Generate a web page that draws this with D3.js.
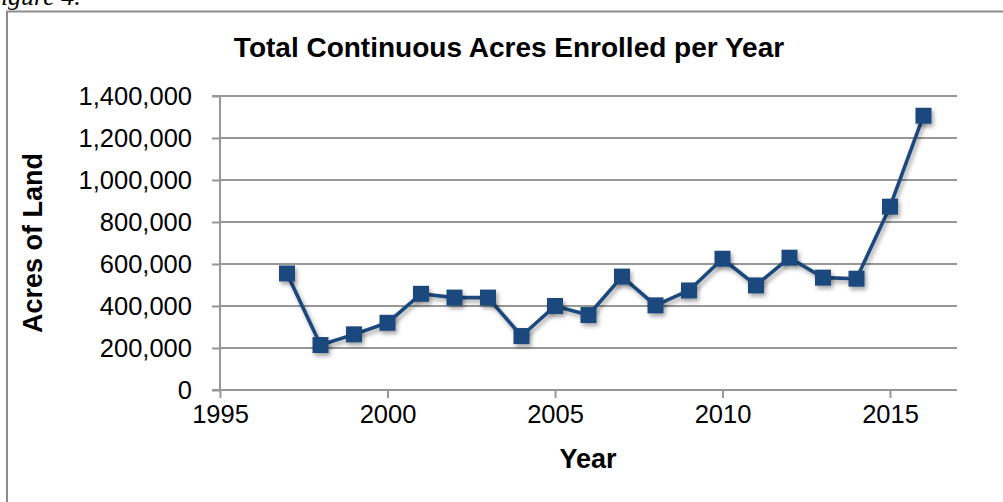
<!DOCTYPE html>
<html><head><meta charset="utf-8">
<script src="https://cdn.jsdelivr.net/npm/d3@7/dist/d3.min.js"></script>
<style>html,body{margin:0;padding:0;background:#fff;overflow:hidden}</style>
</head><body>
<svg id="c" width="1003" height="502"></svg>
<script>
const years = [1997,1998,1999,2000,2001,2002,2003,2004,2005,2006,2007,2008,2009,2010,2011,2012,2013,2014,2015,2016];
const acres = [555000,214000,265000,320000,458000,440000,440000,257000,400000,357000,540000,403000,474000,625000,498000,630000,535000,530000,873000,1306000];
const xTicks = [1995,2000,2005,2010,2015];
const yTicks = [0,200000,400000,600000,800000,1000000,1200000,1400000];
const title = "Total Continuous Acres Enrolled per Year";
const xLabel = "Year";
const yLabel = "Acres of Land";

const svg = d3.select("#c");
const font = "'Liberation Sans', Arial, sans-serif";
const L = 220, R = 957, T = 96, B = 390;
const x = d3.scaleLinear().domain([1995, 2017]).range([L, R]);
const y = d3.scaleLinear().domain([0, 1400000]).range([B, T]);

const defs = svg.append("defs");
const f = defs.append("filter").attr("id","sh").attr("x","-50%").attr("y","-50%").attr("width","200%").attr("height","200%");
f.append("feDropShadow").attr("dx",2).attr("dy",3).attr("stdDeviation",2).attr("flood-color","#000").attr("flood-opacity",0.35);

// caption fragment above frame (cut off at the top-left, as in the reference)
svg.append("text").attr("x",-15).attr("y",5).attr("font-family","'Liberation Serif','DejaVu Serif',serif")
  .attr("font-style","italic").attr("font-size",26).attr("fill","#000").text("Figure 4.");

// frame
svg.append("path").attr("d","M7,502 V11.5 H1003").attr("fill","none").attr("stroke","#8c8c8c").attr("stroke-width",2);

// gridlines
svg.append("g").selectAll("line").data(yTicks.filter(d=>d>0)).join("line")
  .attr("x1",L).attr("x2",R).attr("y1",d=>y(d)).attr("y2",d=>y(d))
  .attr("stroke","#979797").attr("stroke-width",2);

// y axis
const ya = svg.append("g").attr("transform",`translate(${L},0)`)
  .call(d3.axisLeft(y).tickValues(yTicks).tickSize(8).tickPadding(20).tickFormat(d3.format(",")));
ya.select(".domain").attr("stroke","#979797").attr("stroke-width",2).attr("d",`M-8,${T}H0V${B}H-8`);
ya.selectAll(".tick line").attr("stroke","#979797").attr("stroke-width",2);
ya.selectAll(".tick text").attr("font-family",font).attr("font-size",25.5).attr("fill","#000");

// x axis
const xa = svg.append("g").attr("transform",`translate(0,${B})`)
  .call(d3.axisBottom(x).tickValues(xTicks).tickSize(8).tickPadding(7).tickFormat(d3.format("d")));
xa.select(".domain").attr("stroke","#979797").attr("stroke-width",2).attr("d",`M${L},0H${R}`);
xa.selectAll(".tick line").attr("stroke","#979797").attr("stroke-width",2);
xa.selectAll(".tick text").attr("font-family",font).attr("font-size",25.5).attr("fill","#000");

// line
const data = years.map((yr,i)=>({yr, v: acres[i]}));
svg.append("path").datum(data)
  .attr("d", d3.line().x(d=>x(d.yr)).y(d=>y(d.v)))
  .attr("fill","none").attr("stroke","#1F497D").attr("stroke-width",3.6).attr("stroke-linejoin","round")
  .attr("filter","url(#sh)");
svg.append("g").selectAll("rect").data(data).join("rect")
  .attr("x",d=>x(d.yr)-8).attr("y",d=>y(d.v)-8).attr("width",16).attr("height",16)
  .attr("fill","#1F497D").attr("filter","url(#sh)");

// titles
svg.append("text").attr("x",509).attr("y",57).attr("text-anchor","middle")
  .attr("font-family",font).attr("font-weight","bold").attr("font-size",28).text(title);
svg.append("text").attr("x",588).attr("y",468).attr("text-anchor","middle")
  .attr("font-family",font).attr("font-weight","bold").attr("font-size",27).text(xLabel);
svg.append("text").attr("transform","translate(42,243) rotate(-90)").attr("text-anchor","middle")
  .attr("font-family",font).attr("font-weight","bold").attr("font-size",27).text(yLabel);
</script>
</body></html>
